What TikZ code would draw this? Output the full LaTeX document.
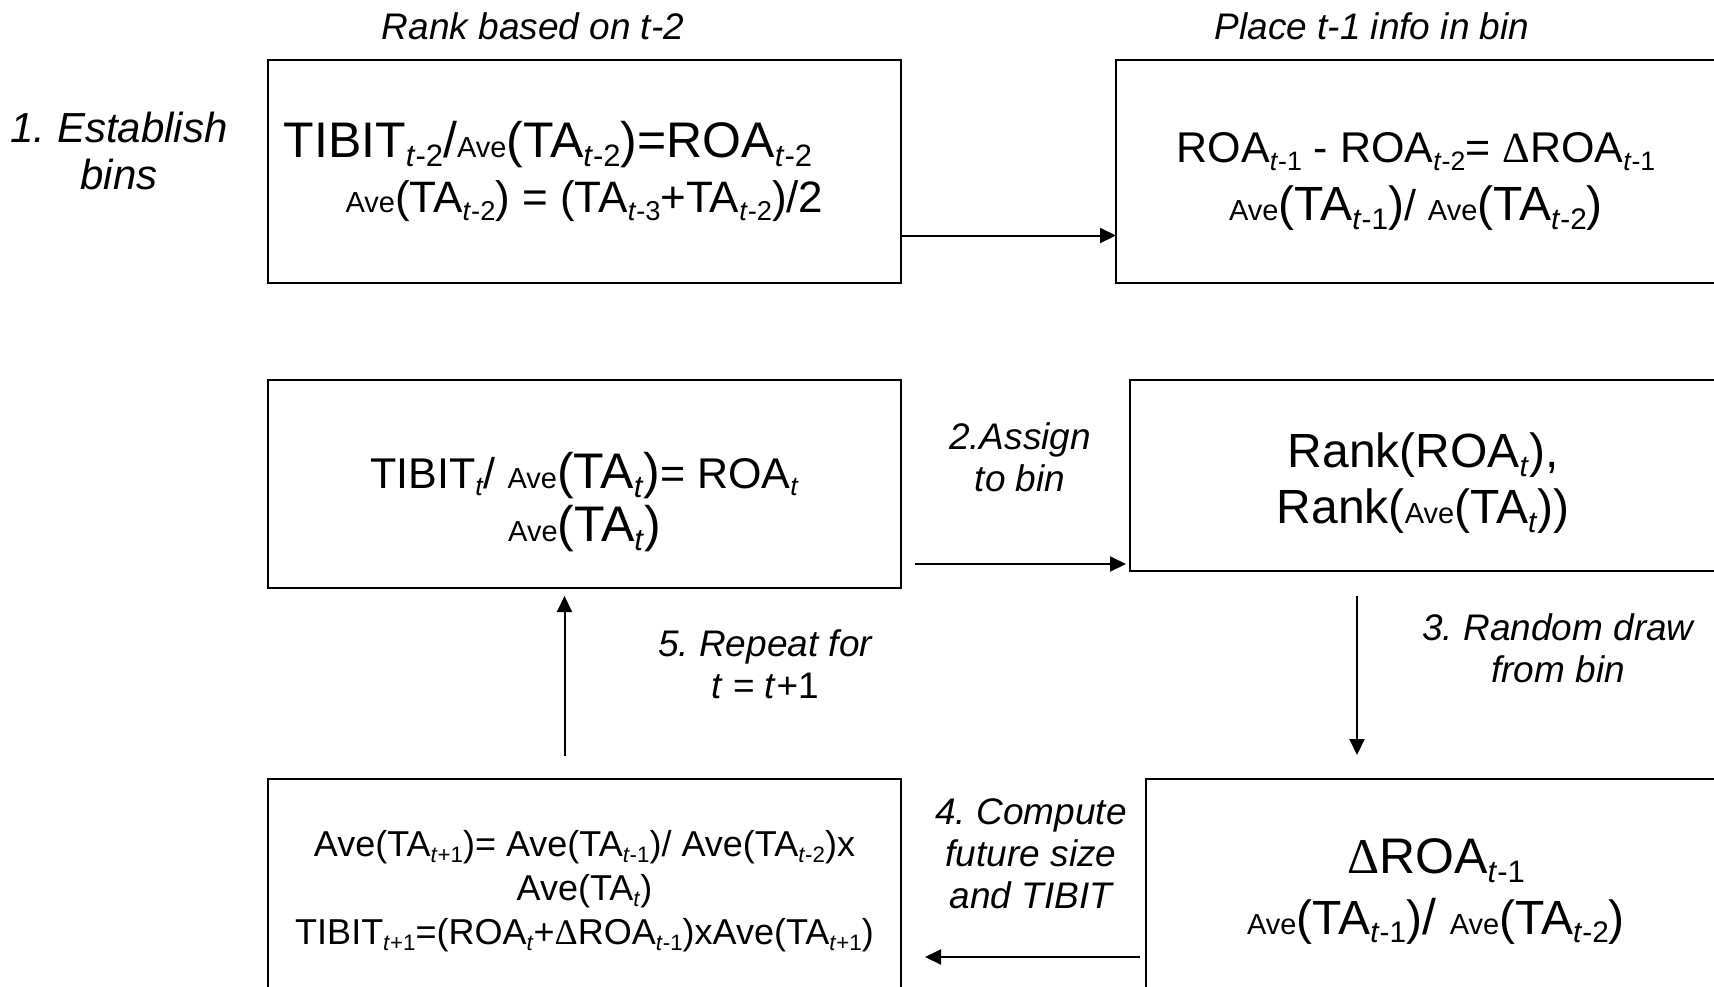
\documentclass[tikz,border=0pt]{standalone}
\usepackage{fontspec}
\setmainfont{Liberation Sans}
\newfontfamily\deltafont{Liberation Serif}
\usetikzlibrary{arrows.meta,positioning}
\frenchspacing

\newcommand{\ti}{\textit{t}}
\newcommand{\tsub}[1]{\raisebox{-0.35ex}{\scalebox{0.62}{#1}}}
\newcommand{\ave}{{\fontsize{14.5}{16}\selectfont Ave}}
\newcommand{\taof}[2]{{\fontsize{#1}{#1}\selectfont(TA\tsub{#2})}}
\newcommand{\dlt}{{\deltafont Δ}}

\begin{document}
\begin{tikzpicture}[
  x=1pt, y=1pt,
  box/.style={draw, line width=1pt, outer sep=0pt, inner sep=0pt, align=center, minimum width=316.5pt, minimum height=111.5pt},
  remark/.style={align=center, font=\fontsize{18.5}{21}\selectfont\itshape},
  arrow/.style={-{Triangle[length=8pt,width=7.5pt]}, line width=1pt}
]
\useasboundingbox (0,0) rectangle (857,-493);
\clip (0,0) rectangle (857,-493);

% boxes
\node[box, font=\fontsize{22}{27.5}\selectfont] (ranked) at (292.25,-85.75)
  {{\fontsize{25}{30}\selectfont TIBIT\tsub{\ti-2}/\ave\taof{25}{\ti-2}=ROA\tsub{\ti-2}}\hspace*{36.6pt}\\
   \ave(TA\tsub{\ti-2}) = (TA\tsub{\ti-3}+TA\tsub{\ti-2})/2};
\node[box, right=107.5pt of ranked, minimum width=300pt, font=\fontsize{21.5}{29}\selectfont] (placed)
  {\rule{0pt}{24.8pt}ROA\tsub{\ti-1} - ROA\tsub{\ti-2}= \dlt ROA\tsub{\ti-1}\\
   \ave\taof{24}{\ti-1}/ \ave\taof{24}{\ti-2}};
\node[box, below=48.5pt of ranked, minimum height=104pt, font=\fontsize{21.5}{26.5}\selectfont] (current)
  {\rule{0pt}{35.7pt}TIBIT\tsub{\ti}/ \ave\taof{25}{\ti}= ROA\tsub{\ti}\\
   \ave\taof{25}{\ti}};
\node[box, right=114.5pt of current.north east, anchor=north west, minimum width=293pt, minimum height=95.5pt, font=\fontsize{24}{28}\selectfont] (binned)
  {\rule{0pt}{25.2pt}Rank(ROA\tsub{\ti}),\\
   Rank(\ave\taof{24}{\ti})};
\node[box, below=95.5pt of current, minimum height=112pt, font=\fontsize{18}{22}\selectfont] (future)
  {Ave(TA\tsub{\ti+1})= Ave(TA\tsub{\ti-1})/ Ave(TA\tsub{\ti-2})x\\
   Ave(TA\tsub{\ti})\\
   TIBIT\tsub{\ti+1}=(ROA\tsub{\ti}+\dlt ROA\tsub{\ti-1})xAve(TA\tsub{\ti+1})};
\node[box, right=122.5pt of future, minimum width=290pt, minimum height=112pt, font=\fontsize{25}{30.5}\selectfont] (drawn)
  {\dlt ROA\tsub{\ti-1}\\
   \ave\taof{24}{\ti-1}/ \ave\taof{24}{\ti-2}};

% step labels
\node[remark] (rankNote) at (266.5,-13) {Rank based on t-2};
\node[remark] (placeNote) at (686,-13) {Place t-1 info in bin};
\node[remark, font=\fontsize{21}{23.5}\selectfont\itshape] (step1) at (59.5,-75.5) {1. Establish\\bins};
\node[remark] (step2) at (510,-228.5) {2.Assign\\to bin};
\node[remark] (step3) at (779,-324) {3. Random draw\\from bin};
\node[remark] (step4) at (515.5,-427) {4. Compute\\future size\\and TIBIT};
\node[remark] (step5) at (382.5,-332) {5. Repeat for\\t\textup{ = }t\textup{+1}};

% arrows
\draw[arrow] ([yshift=-32pt]ranked.east) -- ([yshift=-32pt]ranked.east -| placed.west);
\draw[arrow, shorten <=7pt, shorten >=2pt] ([yshift=-40pt]current.east) -- ([yshift=-40pt]current.east -| binned.west);
\draw[arrow, shorten <=12.5pt, shorten >=12pt] ([xshift=-33pt]binned.south) -- ([xshift=-33pt]binned.south |- drawn.north);
\draw[arrow, shorten <=3pt, shorten >=12pt] ([yshift=-33pt]drawn.west) -- ([yshift=-33pt]drawn.west -| future.east);
\draw[arrow, shorten <=11.5pt, shorten >=4pt] ([xshift=-10pt]future.north) -- ([xshift=-10pt]future.north |- current.south);
\end{tikzpicture}
\end{document}
